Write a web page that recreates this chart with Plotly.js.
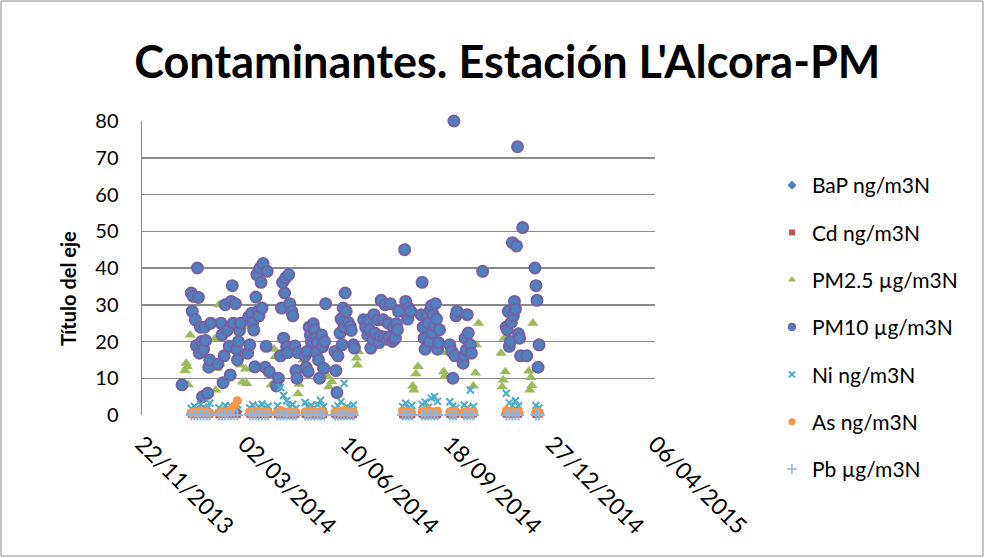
<!DOCTYPE html>
<html>
<head>
<meta charset="utf-8">
<script src="https://cdn.plot.ly/plotly-3.0.1.min.js"></script>
<style>html,body{margin:0;padding:0;background:#fff;}#chart{width:985px;height:558px;}</style>
</head>
<body>
<div id="chart"></div>
<script>
// ---- Tick labels ----
const tickDates = ['2013-11-22','2014-03-02','2014-06-10','2014-09-18','2014-12-27','2015-04-06'];
const tickLabels = ['22/11/2013','02/03/2014','10/06/2014','18/09/2014','27/12/2014','06/04/2015'];
const yTicks = [0,10,20,30,40,50,60,70,80];

// ---- PM10 µg/m3N ----
const pm10Dates = ['2013-12-31','2014-01-09','2014-01-10','2014-01-11','2014-01-13','2014-01-14','2014-01-15','2014-01-16','2014-01-17','2014-01-18','2014-01-19','2014-01-20','2014-01-21','2014-01-22','2014-01-23','2014-01-25','2014-01-26','2014-01-27','2014-01-28',
'2014-02-04','2014-02-07','2014-02-08','2014-02-09','2014-02-10','2014-02-11','2014-02-13','2014-02-15','2014-02-16','2014-02-17','2014-02-18','2014-02-19','2014-02-21','2014-02-22','2014-02-23','2014-02-24','2014-02-25','2014-02-26',
'2014-03-05','2014-03-06','2014-03-07','2014-03-09','2014-03-10','2014-03-11','2014-03-12','2014-03-13','2014-03-14','2014-03-15','2014-03-16','2014-03-17','2014-03-18','2014-03-19','2014-03-20','2014-03-22','2014-03-23','2014-03-24','2014-03-26',
'2014-04-02','2014-04-04','2014-04-06','2014-04-07','2014-04-08','2014-04-09','2014-04-10','2014-04-11','2014-04-12','2014-04-13','2014-04-14','2014-04-15','2014-04-17','2014-04-18','2014-04-20','2014-04-21','2014-04-22','2014-04-23',
'2014-04-30','2014-05-01','2014-05-02','2014-05-03','2014-05-04','2014-05-05','2014-05-06','2014-05-08','2014-05-09','2014-05-10','2014-05-11','2014-05-12','2014-05-13','2014-05-14','2014-05-16','2014-05-17','2014-05-18','2014-05-19','2014-05-20',
'2014-05-29','2014-05-30','2014-05-31','2014-06-01','2014-06-03','2014-06-04','2014-06-05','2014-06-06','2014-06-07','2014-06-08','2014-06-09','2014-06-11','2014-06-13','2014-06-14','2014-06-16','2014-06-17',
'2014-06-26','2014-06-28','2014-06-30','2014-07-01','2014-07-02','2014-07-03','2014-07-05','2014-07-06','2014-07-07','2014-07-10','2014-07-11','2014-07-12','2014-07-13','2014-07-15','2014-07-16','2014-07-17','2014-07-19','2014-07-20','2014-07-21','2014-07-22','2014-07-24','2014-07-25','2014-07-26','2014-07-27','2014-07-28','2014-07-29','2014-07-30',
'2014-08-05','2014-08-06','2014-08-08','2014-08-09','2014-08-11','2014-08-21','2014-08-22','2014-08-23','2014-08-24','2014-08-25','2014-08-27','2014-08-28','2014-08-29','2014-08-30','2014-08-31','2014-09-01','2014-09-02','2014-09-03','2014-09-04','2014-09-05','2014-09-06','2014-09-07','2014-09-08',
'2014-09-18','2014-09-20','2014-09-21','2014-09-22','2014-09-23','2014-09-24','2014-09-25','2014-10-01','2014-10-02','2014-10-03','2014-10-04','2014-10-05','2014-10-06','2014-10-08','2014-10-09','2014-10-20',
'2014-11-12','2014-11-13','2014-11-14','2014-11-15','2014-11-16','2014-11-17','2014-11-18','2014-11-19','2014-11-20','2014-11-21','2014-11-22','2014-11-23','2014-11-24','2014-11-25','2014-11-26','2014-11-28','2014-12-02','2014-12-10','2014-12-11','2014-12-12','2014-12-13','2014-12-14'];
const pm10Values = [8.2,33.2,28.2,32.3,25.9,18.9,40,32,16.8,23.9,20,5,17.9,23.9,20.3,5.9,13,15,25,
13.9,25,21.8,8.8,16.1,30,23,18.7,10.9,30.9,35.2,25,30.3,17.9,15,20,23,25,
16.8,26.7,19.1,27.7,25.2,23.1,13.1,32.1,38.2,28.2,27,40,36.1,29.1,41.2,13,18.7,39.1,11.8,
7.9,10,16.1,29.1,36.1,20.9,33.2,37.3,18.6,17,38.2,30.3,28.2,27,18.8,12.1,10,17,
16.1,13,17.3,11.8,23.9,21.8,20,24.8,23.2,20.9,17,19.7,15,10,21.8,18.6,12.7,20,30.3,
17.3,12.1,6.1,16.1,22.3,26.1,19.1,29.1,23.9,33.2,28.2,25.2,24.1,23,19.1,18.2,
25.9,23.9,21.8,25.9,23.2,18.2,20.5,27.3,22.3,25.9,19.7,21.5,31.2,25.9,21.2,30,20.6,25,21.2,30.3,20,23.9,20.6,20.9,24.8,23.2,28.2,
45,30.9,26.1,29.1,28.2,27.3,36.1,23.9,20.9,17.9,27.3,25,20,28.6,29.7,22.3,27.3,24.3,30.3,26.1,17.9,19.7,23.2,
19.1,17.3,10,80,16.1,27,28.2,14.1,16.1,20.9,17.7,27.3,22.3,19.1,16.8,39.1,
23.9,23.2,28.2,18.7,20,25.2,46.9,27,30.9,28.8,46,73,22.1,20.9,16.1,51,16.1,40,35.2,31.2,13,19.1];

// ---- PM2.5 µg/m3N ----
const pm25Dates = ['2014-01-03','2014-01-04','2014-01-05','2014-01-06','2014-01-08','2014-02-01','2014-02-02','2014-02-03','2014-02-05','2014-02-06',
'2014-02-26','2014-02-27','2014-02-28','2014-03-02','2014-03-03','2014-03-04','2014-03-28','2014-03-29','2014-03-31','2014-04-01',
'2014-04-23','2014-04-24','2014-04-25','2014-04-27','2014-04-28','2014-05-22','2014-05-23','2014-05-24','2014-05-26','2014-06-19','2014-06-20','2014-06-21',
'2014-08-13','2014-08-14','2014-08-16','2014-08-18','2014-09-11','2014-09-12','2014-09-13','2014-10-11','2014-10-13','2014-10-14','2014-10-16',
'2014-11-07','2014-11-08','2014-11-09','2014-11-10','2014-11-11','2014-12-04','2014-12-05','2014-12-06','2014-12-07','2014-12-08'];
const pm25Values = [12.1,14.1,13.2,8.2,21.8,20.7,6.8,12.7,30,13.9,
13.6,15.9,9,24,12.5,8.6,8.2,11,17.9,15.9,
5.8,8.4,12.2,16.4,15,10.5,7.7,12.3,9.1,15.5,13.6,17.3,
7.9,6.8,11.2,13.2,17,11.8,10.5,7.9,11.4,19.1,25,
16.8,7.7,9.5,20.9,11.8,12,6.8,10.2,8,25];

// ---- Metals (same sampling days) ----
const metalDates = ['2014-01-09','2014-01-12','2014-01-15','2014-01-18','2014-01-21','2014-01-24','2014-01-27',
'2014-02-05','2014-02-08','2014-02-11','2014-02-14','2014-02-17','2014-02-20','2014-02-23',
'2014-03-07','2014-03-10','2014-03-13','2014-03-16','2014-03-19','2014-03-22','2014-03-25',
'2014-04-03','2014-04-06','2014-04-09','2014-04-12','2014-04-15','2014-04-18','2014-04-21',
'2014-04-30','2014-05-03','2014-05-06','2014-05-09','2014-05-12','2014-05-15','2014-05-18',
'2014-05-29','2014-06-01','2014-06-04','2014-06-07','2014-06-10','2014-06-13','2014-06-16',
'2014-08-03','2014-08-06','2014-08-09','2014-08-12',
'2014-08-22','2014-08-25','2014-08-28','2014-08-31','2014-09-03','2014-09-06',
'2014-09-18','2014-09-21','2014-09-24',
'2014-10-02','2014-10-05','2014-10-08','2014-10-11',
'2014-11-12','2014-11-15','2014-11-18','2014-11-21','2014-11-24',
'2014-12-11','2014-12-14'];
const bapValues = [0.5,0.8,0.4,0.6,0.9,0.3,0.7, 0.6,0.4,0.8,0.5,0.3,0.7,0.9, 0.3,0.2,0.4,0.3,0.2,0.3,0.2, 0.1,0.2,0.1,0.2,0.1,0.1,0.1,
0.1,0.05,0.1,0.05,0.1,0.05,0.05, 0.05,0.05,0.05,0.05,0.05,0.05,0.05, 0.05,0.05,0.05,0.05, 0.05,0.05,0.05,0.1,0.05,0.05,
0.1,0.1,0.2, 0.2,0.1,0.3,0.2, 0.4,0.6,0.3,0.5,0.7, 0.8,0.6];
const cdValues = [0.2,0.1,0.3,0.2,0.1,0.2,0.2, 0.1,0.2,0.2,0.3,0.1,0.2,0.1, 0.2,0.2,0.1,0.3,0.2,0.1,0.2, 0.1,0.3,0.2,0.2,0.1,0.2,0.2,
0.2,0.1,0.2,0.1,0.3,0.2,0.1, 0.2,0.2,0.1,0.2,0.3,0.1,0.2, 0.1,0.2,0.2,0.1, 0.2,0.1,0.3,0.2,0.2,0.1,
0.2,0.1,0.2, 0.1,0.2,0.2,0.3, 0.2,0.3,0.1,0.2,0.2, 0.1,0.2];
const niValues = [1.8,2.4,1.5,2.9,2.1,1.6,3.2, 2.0,1.4,2.6,1.9,2.3,1.7,2.8, 1.9,2.7,1.5,2.2,3.0,1.8,2.4, 2.5,7.5,5.3,3.9,2.2,2.9,1.8,
3.4,2.1,2.6,1.9,2.8,4.0,2.3, 1.7,2.5,3.6,8.6,2.2,1.9,2.7, 2.3,3.2,1.8,2.6, 2.9,3.5,2.1,4.6,5.0,3.7,
3.6,2.4,1.9, 2.7,1.9,6.8,2.3, 5.9,3.3,2.6,3.9,2.5, 2.6,1.9];
const asValues = [0.6,0.9,0.5,1.1,0.7,0.8,0.6, 0.7,1.0,0.6,0.9,1.4,2.5,3.9, 0.8,0.5,1.0,0.7,0.9,0.6,0.8, 0.7,1.2,0.9,0.6,1.0,0.8,0.7,
0.9,0.6,1.1,0.8,0.7,1.0,0.6, 0.8,1.0,0.7,1.2,0.9,0.6,0.8, 1.1,0.8,0.9,0.7, 1.0,0.7,1.3,0.9,0.8,1.1,
0.9,0.6,1.0, 0.8,1.1,0.7,0.9, 1.2,0.8,1.0,0.7,0.9, 0.9,0.7];
const pbValues = [0.02,0.03,0.01,0.02,0.02,0.01,0.03, 0.02,0.01,0.02,0.03,0.02,0.02,0.01, 0.01,0.02,0.02,0.01,0.03,0.02,0.01, 0.01,0.02,0.01,0.02,0.01,0.01,0.02,
0.01,0.01,0.02,0.01,0.01,0.02,0.01, 0.01,0.02,0.01,0.01,0.02,0.01,0.01, 0.01,0.01,0.02,0.01, 0.01,0.02,0.01,0.01,0.02,0.01,
0.02,0.01,0.01, 0.02,0.01,0.02,0.02, 0.02,0.03,0.02,0.01,0.02, 0.03,0.02];

const FONT = 'Lato, "Open Sans", sans-serif';

const series = [
  {name:'BaP ng/m3N', x:metalDates, y:bapValues, marker:{symbol:'diamond', size:8, color:'#4F81BD'}, leg:{symbol:'diamond', size:7, color:'#4F81BD'}},
  {name:'Cd ng/m3N', x:metalDates, y:cdValues, marker:{symbol:'square', size:7, color:'#C0504D'}, leg:{symbol:'square', size:6, color:'#C0504D'}},
  {name:'PM2.5 µg/m3N', x:pm25Dates, y:pm25Values, marker:{symbol:'triangle-up', size:10, color:'#9BBB59'}, leg:{symbol:'triangle-up', size:7, color:'#9BBB59'}},
  {name:'PM10 µg/m3N', x:pm10Dates, y:pm10Values, marker:{symbol:'circle', size:11, color:'#4F81BD', line:{color:'#7460A6', width:2}}, leg:{symbol:'circle', size:7, color:'#4F81BD', line:{color:'#7460A6', width:1.5}}},
  {name:'Ni ng/m3N', x:metalDates, y:niValues, marker:{symbol:'x-thin', size:7, color:'#4BACC6', line:{color:'#4BACC6', width:2}}, leg:{symbol:'x-thin', size:6, color:'#4BACC6', line:{color:'#4BACC6', width:2}}},
  {name:'As ng/m3N', x:metalDates, y:asValues, marker:{symbol:'circle', size:9, color:'#F79646'}, leg:{symbol:'circle', size:7, color:'#F79646'}},
  {name:'Pb µg/m3N', x:metalDates, y:pbValues, marker:{symbol:'cross-thin', size:8, color:'#95B3D7', line:{color:'#95B3D7', width:2}}, leg:{symbol:'cross-thin', size:7, color:'#95B3D7', line:{color:'#95B3D7', width:1.5}}}
];

const traces = [];
series.forEach(function(s, i){
  traces.push({type:'scatter', mode:'markers', name:s.name, x:s.x, y:s.y, marker:s.marker,
               showlegend:false, cliponaxis:false, hoverinfo:'x+y'});
});
// legend entries (no data marks, only the key swatches)
series.forEach(function(s, i){
  traces.push({type:'scatter', mode:'markers', name:s.name, x:[null], y:[null], marker:s.leg,
               legendgroup:'g'+i, showlegend:true, hoverinfo:'skip'});
});

const layout = {
  width:985, height:558,
  margin:{l:142, r:330, t:121, b:143},
  paper_bgcolor:'#ffffff', plot_bgcolor:'#ffffff',
  font:{family:FONT, color:'#000000', size:19},
  showlegend:true,
  title:{text:"Contaminantes. Estación L'Alcora-PM", font:{family:FONT, size:45, color:'#000', weight:'bold'},
         x:0.515, xanchor:'center', xref:'container', y:1-62/558, yanchor:'middle', yref:'container'},
  xaxis:{type:'date', range:['2013-11-22','2015-04-06'], tickmode:'array', tickvals:tickDates, ticktext:tickLabels,
         tickangle:45, showgrid:false, zeroline:false, showline:false, ticks:'', ticklabelstandoff:10,
         tickfont:{family:FONT, size:23}, fixedrange:true},
  yaxis:{range:[0,80], tickmode:'array', tickvals:yTicks, showgrid:true, gridcolor:'#8a8a8a', gridwidth:1.5,
         zeroline:false, showline:true, linecolor:'#8a8a8a', linewidth:1.5, ticks:'', ticklabelstandoff:18,
         tickfont:{family:FONT, size:20}, fixedrange:true},
  annotations:[{text:'Título del eje', xref:'paper', yref:'paper', x:(68-142)/513, y:(415-289)/294,
                xanchor:'center', yanchor:'middle', textangle:-90, showarrow:false,
                font:{family:FONT, size:20, weight:'bold', color:'#000'}}],
  legend:{x:1.228, xanchor:'left', y:(415-165)/294, yanchor:'top', font:{family:FONT, size:21},
          tracegroupgap:17, itemsizing:'trace', maxheight:520, bgcolor:'rgba(0,0,0,0)'},
  shapes:[{type:'rect', xref:'paper', yref:'paper', x0:(1-142)/513, x1:(983-142)/513, y0:(415-556)/294, y1:(415-1)/294,
           line:{color:'#8a8a8a', width:1}, fillcolor:'rgba(0,0,0,0)', layer:'below'}]
};

Plotly.newPlot('chart', traces, layout, {displayModeBar:false, staticPlot:true});
</script>
</body>
</html>
